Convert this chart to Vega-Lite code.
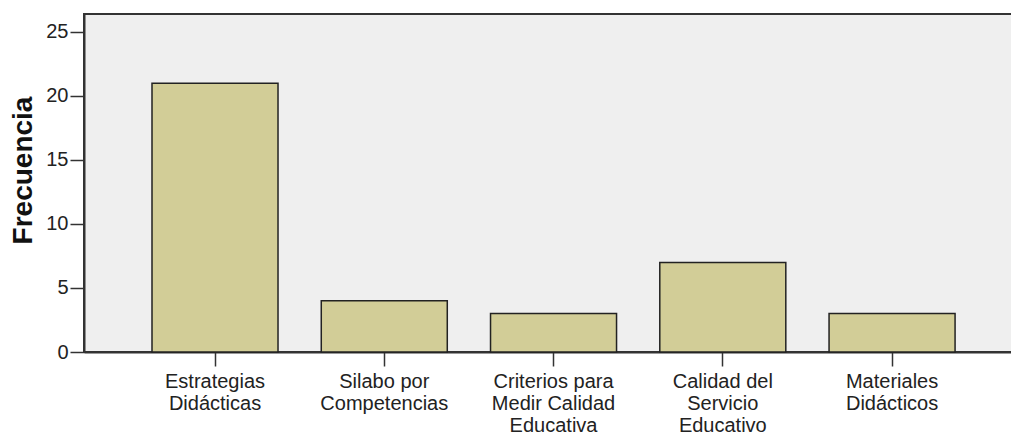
{
  "$schema": "https://vega.github.io/schema/vega-lite/v6.json",
  "width": 929,
  "height": 338,
  "autosize": {"type": "none"},
  "padding": {"left": 84, "top": 14, "right": 0, "bottom": 80},
  "background": "#ffffff",
  "config": {
    "font": "Liberation Sans",
    "view": {"fill": "#efefef", "stroke": "#333333", "strokeWidth": 2}
  },
  "data": {
    "values": [
      {"categoria": "Estrategias\nDidácticas", "frecuencia": 21},
      {"categoria": "Silabo por\nCompetencias", "frecuencia": 4},
      {"categoria": "Criterios para\nMedir Calidad\nEducativa", "frecuencia": 3},
      {"categoria": "Calidad del\nServicio\nEducativo", "frecuencia": 7},
      {"categoria": "Materiales\nDidácticos", "frecuencia": 3}
    ]
  },
  "mark": {"type": "bar", "fill": "#d2cd97", "stroke": "#222222", "strokeWidth": 1.5},
  "encoding": {
    "x": {
      "field": "categoria",
      "type": "nominal",
      "sort": null,
      "scale": {"paddingInner": 0.2555, "paddingOuter": 0.372, "align": 0.54},
      "axis": {
        "title": null,
        "labelAngle": 0,
        "labelExpr": "split(datum.label, '\\n')",
        "labelFontSize": 20,
        "labelLineHeight": 22,
        "labelColor": "#222222",
        "labelBaseline": "top",
        "labelPadding": 5,
        "tickSize": 14,
        "tickColor": "#333333",
        "tickWidth": 1.5,
        "domainColor": "#333333",
        "domainWidth": 2,
        "grid": false
      }
    },
    "y": {
      "field": "frecuencia",
      "type": "quantitative",
      "scale": {"domain": [0, 26.4], "nice": false},
      "axis": {
        "title": "Frecuencia",
        "titleFontSize": 28,
        "titleFontWeight": "bold",
        "titleColor": "#111111",
        "titlePadding": 8,
        "titleY": 156,
        "values": [0, 5, 10, 15, 20, 25],
        "labelFontSize": 20,
        "labelColor": "#222222",
        "labelPadding": 2,
        "tickSize": 14,
        "tickColor": "#333333",
        "tickWidth": 1.5,
        "domainColor": "#333333",
        "domainWidth": 2,
        "grid": false
      }
    }
  }
}
